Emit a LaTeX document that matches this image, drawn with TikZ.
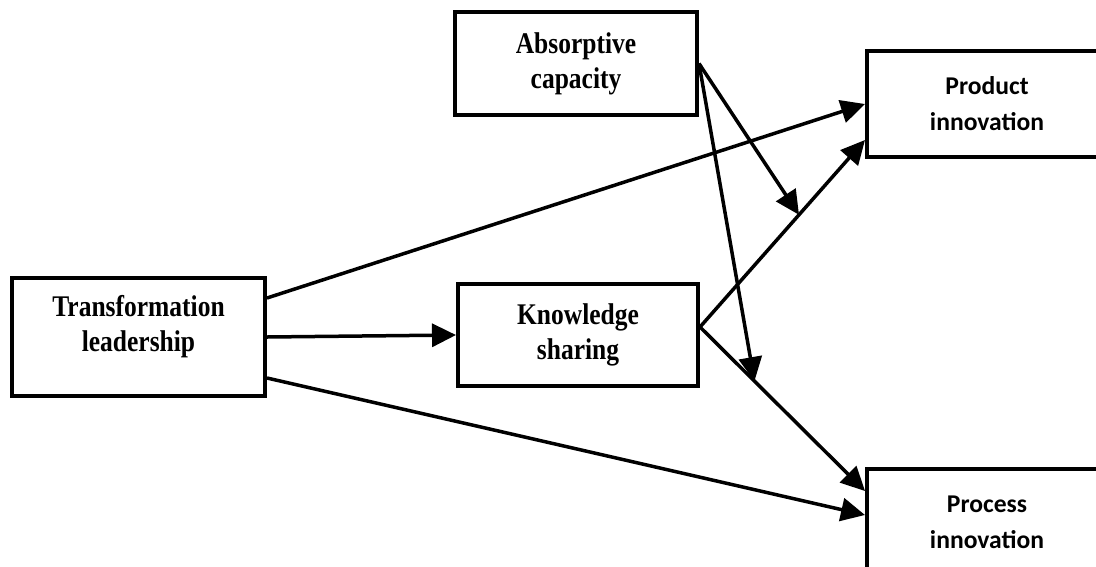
\documentclass[tikz,border=0pt]{standalone}
\usepackage{fontspec}
\setmainfont{Liberation Serif}[FakeStretch=0.85]
\newfontfamily\calibrifont{Carlito}
\usetikzlibrary{arrows.meta, calc}

\begin{document}
\begin{tikzpicture}[
  x=1pt,
  y=-1pt,
  font=\fontsize{30}{35}\selectfont\bfseries,
  box/.style={rectangle, draw, line width=4pt, align=center, inner sep=0pt},
  outbox/.style={box, font=\fontsize{25.6}{36}\selectfont\calibrifont\bfseries, minimum width=240pt, minimum height=106pt},
  flow/.style={-{Triangle[length=24pt, width=23pt]}, line width=3.5pt}
]

% Page frame
\useasboundingbox (0,0) rectangle (1096,566);
\clip (0,0) rectangle (1096,566);

% Boxes
\node[box, minimum width=253pt, minimum height=118pt] (lead) at (138.5,337) {};
\node[align=center] (leadtext) at (138.5,327) {Transformation\\leadership};
\node[box, minimum width=242pt, minimum height=103pt] (absorb) at (576,63.5) {Absorptive\\capacity};
\node[box, minimum width=240pt, minimum height=102pt] (share) at (578,335) {Knowledge\\sharing};
\node[outbox] (prod) at (987,104) {Product\\innovation};
\node[outbox] (proc) at (987,522) {Process\\innovation};

% Arrow end points
\coordinate (kso) at ([yshift=8pt]share.east);
\coordinate (prodin) at ([yshift=-36pt]prod.west);
\coordinate (procin) at ([yshift=31pt]proc.west);
\coordinate (modprod) at ($(kso)!0.6!(prodin)$);
\coordinate (modproc) at ($(kso)!0.33!(procin)$);

% Direct paths
\draw[flow] ([yshift=39pt]lead.east) -- (prod.west);
\draw[flow] (lead.east) -- (share.west);
\draw[flow] ([yshift=-41pt]lead.east) -- ([yshift=7pt]proc.west);
\draw[flow] (kso) -- (prodin);
\draw[flow] (kso) -- (procin);

% Moderation
\draw[flow] (absorb.east) -- (modprod);
\draw[flow] (absorb.east) -- (modproc);

\end{tikzpicture}
\end{document}
